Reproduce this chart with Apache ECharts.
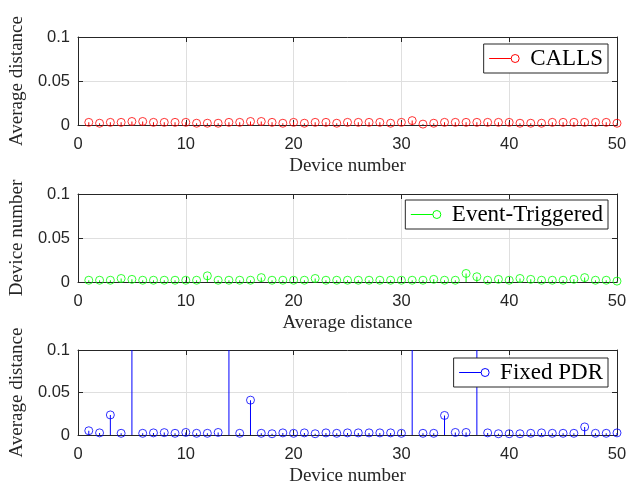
<!DOCTYPE html>
<html><head><meta charset="utf-8">
<script src="https://cdn.jsdelivr.net/npm/echarts@6/dist/echarts.min.js"></script>
<style>html,body{margin:0;padding:0;background:#fff}#c{width:637px;height:487px}</style>
</head><body><div id="c"></div>
<script>
const deviceNumbers = [1,2,3,4,5,6,7,8,9,10,11,12,13,14,15,16,17,18,19,20,21,22,23,24,25,26,27,28,29,30,31,32,33,34,35,36,37,38,39,40,41,42,43,44,45,46,47,48,49,50];
const callsValues = [0.003,0.002,0.003,0.003,0.004,0.004,0.003,0.003,0.003,0.003,0.002,0.002,0.002,0.003,0.003,0.004,0.004,0.003,0.002,0.003,0.002,0.003,0.003,0.002,0.003,0.003,0.003,0.003,0.002,0.003,0.005,0.001,0.002,0.003,0.003,0.003,0.003,0.003,0.003,0.003,0.002,0.002,0.002,0.003,0.003,0.003,0.003,0.003,0.003,0.002];
const eventValues = [0.002,0.002,0.002,0.004,0.003,0.002,0.002,0.002,0.002,0.002,0.002,0.007,0.002,0.002,0.002,0.002,0.005,0.002,0.002,0.002,0.002,0.004,0.002,0.002,0.002,0.002,0.002,0.002,0.002,0.002,0.002,0.002,0.003,0.002,0.002,0.0097,0.006,0.002,0.003,0.002,0.004,0.003,0.002,0.002,0.002,0.003,0.005,0.002,0.002,0.001];
const fixedValues = [0.005,0.0025,0.0236,0.002,0.2,0.002,0.0025,0.0028,0.002,0.003,0.002,0.002,0.003,0.2,0.002,0.041,0.002,0.0015,0.0025,0.002,0.0025,0.0015,0.0025,0.002,0.0025,0.0025,0.0025,0.0025,0.0025,0.002,0.2,0.002,0.002,0.023,0.003,0.003,0.2,0.0025,0.0015,0.0015,0.0015,0.002,0.0025,0.002,0.002,0.002,0.0095,0.002,0.002,0.0025];
const xTickValues = [0,10,20,30,40,50];
const yTickValues = [0,0.05,0.1];

const panels = [
  {name:'CALLS', values:callsValues, color:'#ff0000', xName:'Device number', yName:'Average distance', top:37, legendTop:44},
  {name:'Event-Triggered', values:eventValues, color:'#00ff00', xName:'Average distance', yName:'Device number', top:194, legendTop:200},
  {name:'Fixed PDR', values:fixedValues, color:'#0000ff', xName:'Device number', yName:'Average distance', top:350, legendTop:358}
];

const axisColor = '#262626';
const serif = 'Liberation Serif';
const sans = 'Liberation Sans';
const grids = [], xAxes = [], yAxes = [], series = [], legends = [];
const legendIcon = 'path://M0,4L22,4M30,4A4,4,0,1,1,22,4A4,4,0,1,1,30,4Z';

panels.forEach((p, i) => {
  grids.push({left:76, right:20, top:p.top, height:88, containLabel:false});
  const xBase = {gridIndex:i, type:'value', min:xTickValues[0], max:xTickValues[xTickValues.length-1], interval:10,
    axisLine:{show:true, onZero:false, lineStyle:{color:axisColor, width:1}},
    axisTick:{show:true, inside:true, length:5, lineStyle:{color:axisColor}}};
  xAxes.push(Object.assign({}, xBase, {position:'bottom', name:p.xName, nameLocation:'middle', nameGap:32,
    nameTextStyle:{fontFamily:serif, fontSize:19, color:axisColor},
    axisLabel:{show:true, margin:11, fontFamily:sans, fontSize:16.5, color:axisColor},
    splitLine:{show:true, lineStyle:{color:'#dfdfdf', width:1}}}));
  xAxes.push(Object.assign({}, xBase, {position:'top', axisLabel:{show:false}, splitLine:{show:false}}));
  const yBase = {gridIndex:i, type:'value', min:yTickValues[0], max:yTickValues[yTickValues.length-1], interval:0.05,
    axisLine:{show:true, onZero:false, lineStyle:{color:axisColor, width:1}},
    axisTick:{show:true, inside:true, length:5, lineStyle:{color:axisColor}}};
  yAxes.push(Object.assign({}, yBase, {position:'left', name:p.yName, nameLocation:'middle', nameGap:45,
    nameTextStyle:{fontFamily:serif, fontSize:19, color:axisColor},
    axisLabel:{show:true, margin:8, fontFamily:sans, fontSize:16.5, color:axisColor},
    splitLine:{show:true, lineStyle:{color:'#dfdfdf', width:1}}}));
  yAxes.push(Object.assign({}, yBase, {position:'right', axisLabel:{show:false}, splitLine:{show:false}}));

  const pts = deviceNumbers.map((d, k) => [d, p.values[k]]);
  series.push({type:'bar', name:p.name, xAxisIndex:2*i, yAxisIndex:2*i, data:pts, barWidth:1,
    itemStyle:{color:p.color}, clip:true, silent:true, z:2});
  series.push({type:'scatter', name:p.name, xAxisIndex:2*i, yAxisIndex:2*i, data:pts, symbol:'circle', symbolSize:8,
    itemStyle:{color:'transparent', borderColor:p.color, borderWidth:1}, clip:true, silent:true, z:3});
  legends.push({data:[{name:p.name, icon:legendIcon, itemStyle:{color:'transparent', borderColor:p.color, borderWidth:1}}],
    right:29, top:p.legendTop, itemWidth:30, itemHeight:8, padding:[3,5,3,5],
    backgroundColor:'#fff', borderColor:axisColor, borderWidth:1, borderRadius:0,
    selectedMode:false,
    textStyle:{fontFamily:serif, fontSize:23, color:'#000', padding:[0,0,0,6]}});
});

const chart = echarts.init(document.getElementById('c'), null, {renderer:'canvas'});
chart.setOption({animation:false, backgroundColor:'#fff', grid:grids, xAxis:xAxes, yAxis:yAxes, series:series, legend:legends});
</script></body></html>
